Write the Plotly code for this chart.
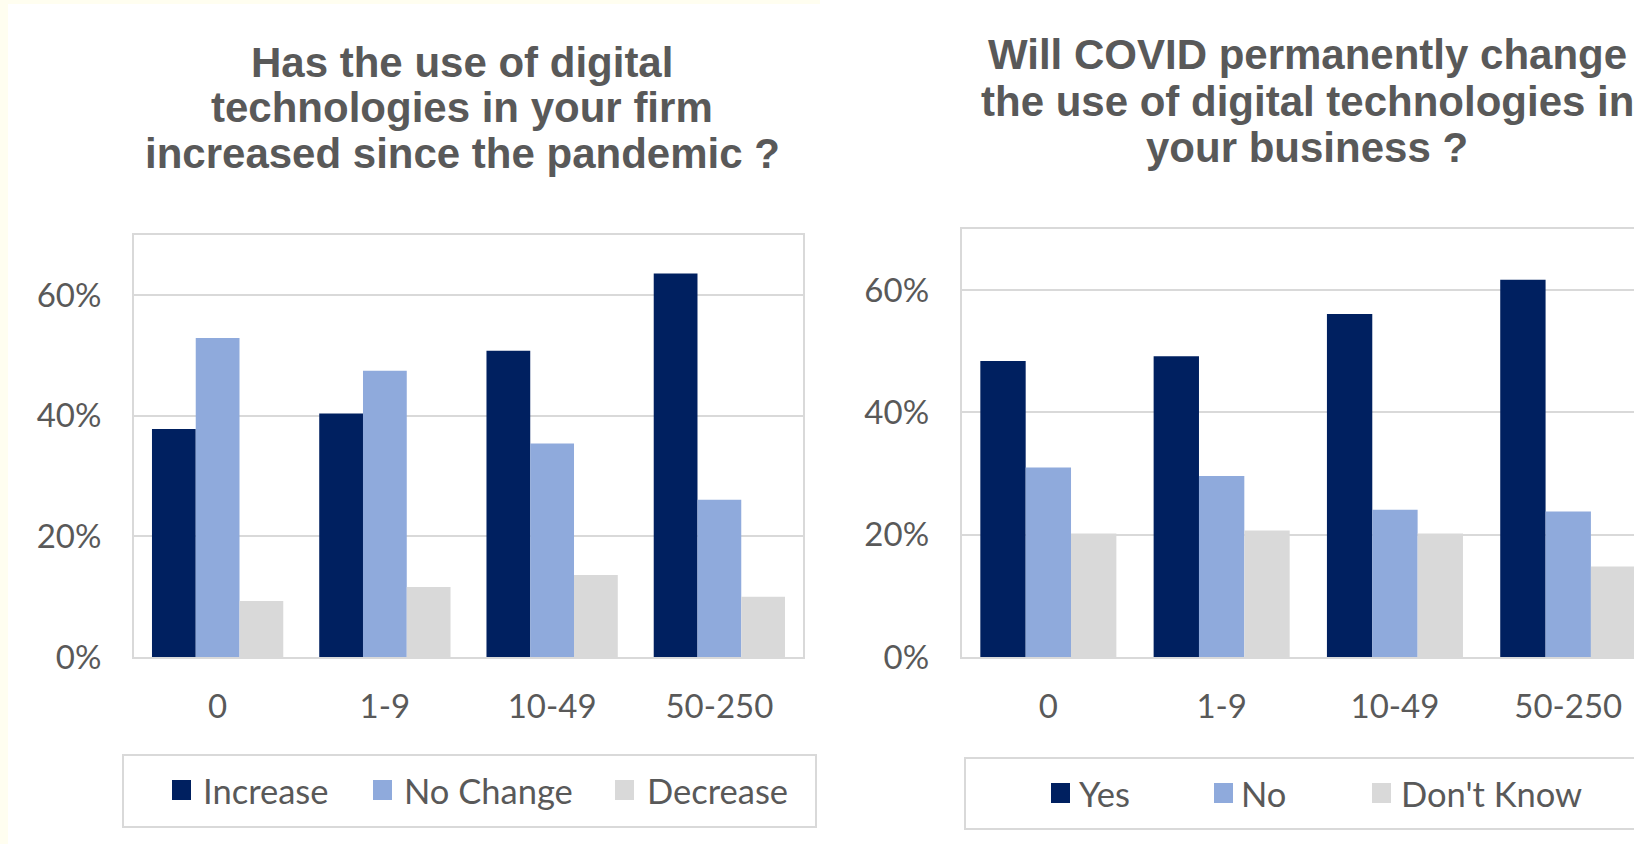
import plotly.graph_objects as go

W, H = 1634, 844

size_bands = ["0", "1-9", "10-49", "50-250"]

# Left panel: has digital technology use increased since the pandemic (% of firms)
increase = [37.8, 40.4, 50.8, 63.6]
no_change = [52.9, 47.5, 35.4, 26.1]
decrease = [9.3, 11.6, 13.6, 10.0]

# Right panel: will COVID permanently change digital technology use (% of firms)
yes = [48.4, 49.2, 56.1, 61.7]
no = [31.0, 29.6, 24.1, 23.8]
dont_know = [20.2, 20.7, 20.2, 14.8]

left_names = ["Increase", "No Change", "Decrease"]
right_names = ["Yes", "No", "Don't Know"]
colors = ["#002060", "#8FAADC", "#D9D9D9"]

y_ticks = [0, 20, 40, 60]
y_tick_labels = ["0%", "20%", "40%", "60%"]

left_title = ["Has the use of digital", "technologies in your firm", "increased since the pandemic ?"]
right_title = ["Will COVID permanently change", "the use of digital technologies in", "your business ?"]

GRID = "#D9D9D9"
TEXT = "#595959"
TICK_FONT = dict(family="Lato", size=33, color=TEXT)
LEGEND_FONT = dict(family="Lato", size=34.5, color=TEXT)
TITLE_FONT = dict(family="Liberation Sans", size=42, color=TEXT)


def px(x):
    return x / W


def py(y):
    return 1 - y / H


fig = go.Figure()

for name, vals, col in zip(left_names, [increase, no_change, decrease], colors):
    fig.add_trace(go.Bar(x=size_bands, y=vals, name=name, marker=dict(color=col, line=dict(width=0)),
                         xaxis="x", yaxis="y", showlegend=False))

for name, vals, col in zip(right_names, [yes, no, dont_know], colors):
    fig.add_trace(go.Bar(x=size_bands, y=vals, name=name, marker=dict(color=col, line=dict(width=0)),
                         xaxis="x2", yaxis="y2", showlegend=False))

# the right panel runs past the page edge, so its category range is cut short
cat_w_right = 173.3
right_left_px = 961.7
right_range_end = -0.5 + (W - right_left_px) / cat_w_right

axis_common = dict(showline=True, linecolor=GRID, linewidth=2, ticks="", tickfont=TICK_FONT,
                   fixedrange=True, automargin=False)

fig.update_layout(
    template="none",
    width=W, height=H, autosize=False, showlegend=False,
    margin=dict(l=0, r=0, t=0, b=0, pad=0, autoexpand=False),
    paper_bgcolor="white", plot_bgcolor="white",
    barmode="group", bargap=0.215, bargroupgap=0,
    xaxis=dict(domain=[px(134), px(803)], range=[-0.5, 3.5], anchor="y", mirror=True,
               showgrid=False, ticklabelstandoff=19, **axis_common),
    yaxis=dict(domain=[py(657), py(235)], range=[0, 70], anchor="x", mirror=True,
               tickvals=y_ticks, ticktext=y_tick_labels, showgrid=True, gridcolor=GRID,
               gridwidth=2, zeroline=False, ticklabelstandoff=24, **axis_common),
    xaxis2=dict(domain=[px(right_left_px), 1], range=[-0.5, right_range_end], anchor="y2",
                mirror=True, showgrid=False, ticklabelstandoff=19, **axis_common),
    yaxis2=dict(domain=[py(657), py(229)], range=[0, 70], anchor="x2", mirror=False,
                tickvals=y_ticks, ticktext=y_tick_labels, showgrid=True, gridcolor=GRID,
                gridwidth=2, zeroline=False, ticklabelstandoff=24, **axis_common),
)

shapes = []
annotations = []

# pale edge of the page
shapes.append(dict(type="rect", xref="paper", yref="paper", x0=0, x1=px(8), y0=0, y1=1,
                   fillcolor="#FFFEF0", line=dict(width=0), layer="below"))
shapes.append(dict(type="rect", xref="paper", yref="paper", x0=0, x1=px(820), y0=py(4), y1=1,
                   fillcolor="#FFFEF0", line=dict(width=0), layer="below"))

# chart titles, one annotation per line
for lines, cx, ys in [(left_title, 462, [62.5, 107, 153]), (right_title, 1307, [55, 101, 147])]:
    for text, yy in zip(lines, ys):
        annotations.append(dict(text="<b>%s</b>" % text, xref="paper", yref="paper",
                                x=px(cx), y=py(yy), xanchor="center", yanchor="middle",
                                showarrow=False, font=TITLE_FONT))

# legend boxes with swatches
legends = [
    dict(box=(123, 816, 755, 827), names=left_names, sw=[172, 373, 615], tx=[201, 402, 645],
         sy=(780, 800), ty=790),
    dict(box=(965, W + 10, 758, 829), names=right_names, sw=[1051, 1214, 1372], tx=[1077, 1239, 1399],
         sy=(783, 803), ty=793),
]
for lg in legends:
    x0, x1, y0, y1 = lg["box"]
    shapes.append(dict(type="rect", xref="paper", yref="paper", x0=px(x0), x1=px(x1),
                       y0=py(y1), y1=py(y0), line=dict(color=GRID, width=2), fillcolor="white"))
    for name, col, sx, tx in zip(lg["names"], colors, lg["sw"], lg["tx"]):
        shapes.append(dict(type="rect", xref="paper", yref="paper", x0=px(sx), x1=px(sx + 19),
                           y0=py(lg["sy"][1]), y1=py(lg["sy"][0]), fillcolor=col, line=dict(width=0)))
        annotations.append(dict(text=name, xref="paper", yref="paper", x=px(tx), y=py(lg["ty"]),
                                xanchor="left", yanchor="middle", showarrow=False, font=LEGEND_FONT))

fig.update_layout(shapes=shapes, annotations=annotations)

fig.write_html("out.html", config={"displayModeBar": False, "responsive": False})
